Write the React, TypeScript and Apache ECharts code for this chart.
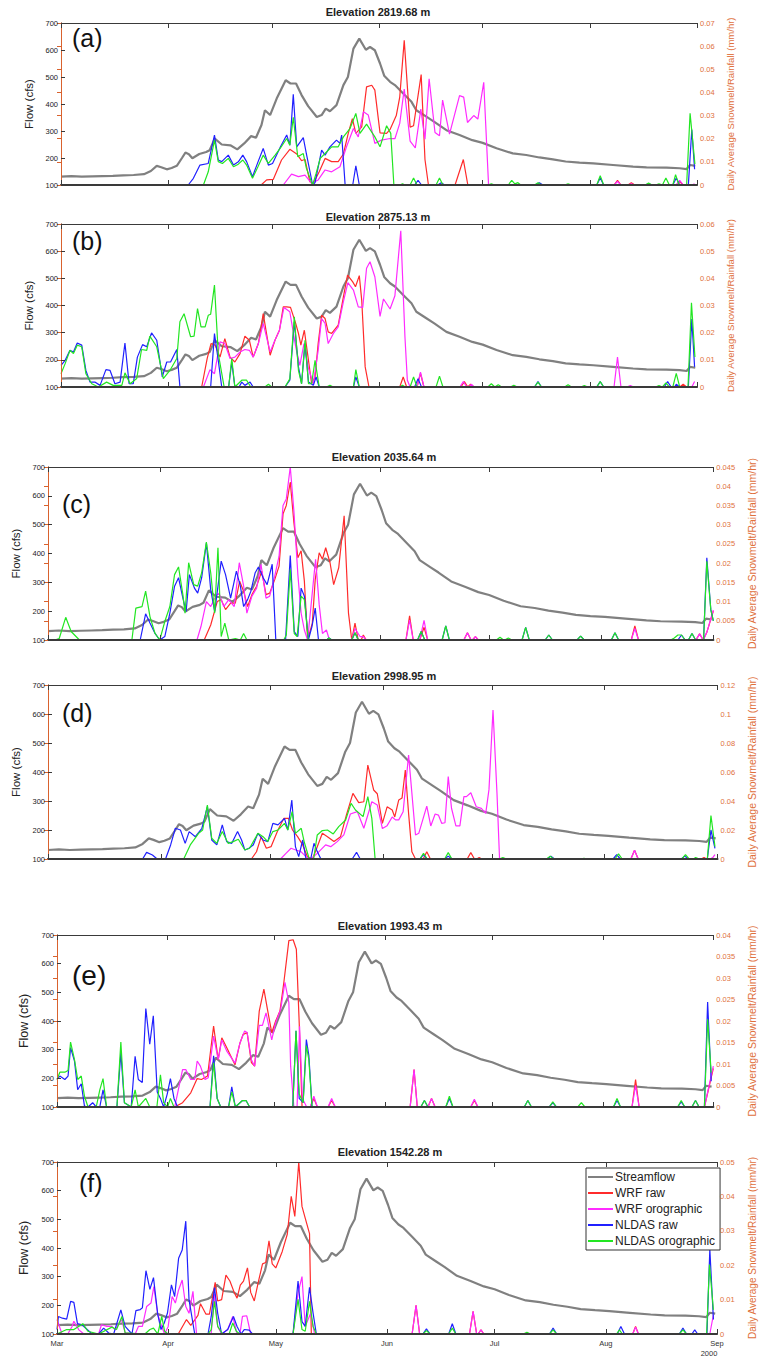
import React, { useEffect, useRef } from 'react';
import * as echarts from 'echarts';

type Pt = [number, number];

// x values are days since 1 March 2000
const MONTH_DAYS = [0, 31, 61, 92, 122, 153, 184];
const MONTH_NAMES = ['Mar', 'Apr', 'May', 'Jun', 'Jul', 'Aug', 'Sep'];
const SERIES_NAMES = ['Streamflow', 'WRF raw', 'WRF orographic', 'NLDAS raw', 'NLDAS orographic'];
const TITLES = ['Elevation 2819.68 m', 'Elevation 2875.13 m', 'Elevation 2035.64 m', 'Elevation 2998.95 m', 'Elevation 1993.43 m', 'Elevation 1542.28 m'];
const PANEL_LABELS = ['(a)', '(b)', '(c)', '(d)', '(e)', '(f)'];
const RIGHT_MAX = [0.07, 0.06, 0.045, 0.12, 0.04, 0.05];
const RIGHT_INTERVAL = [0.01, 0.01, 0.005, 0.02, 0.005, 0.01];
const FLOW_MIN = 100;
const FLOW_MAX = 700;
const FLOW_INTERVAL = 100;

const STREAMFLOW: Pt[] = [[0,131],[3,133],[6,131],[9,132],[12,133],[15,134],[18,136],[21,137],[24,140],[26,152],[27.7,171],[29,166],[30.6,158],[32,163],[33.5,171],[35,200],[36,220],[37,214],[38,199],[40,215],[42,222],[43,229],[44.5,272],[46.5,250],[49,247],[51,232],[53,254],[55,281],[56.4,275],[58,322],[59,377],[60.5,359],[62.4,420],[65,488],[66.4,476],[68,476],[69.6,433],[71.5,392],[74,352],[75.4,359],[76.6,383],[77.8,373],[79.7,396],[81.7,470],[83,500],[84.6,605],[86.3,642],[88.2,601],[89.4,611],[90.8,599],[92.3,550],[93.5,505],[95.2,482],[96.6,470],[99,439],[101.4,408],[102.8,377],[105.7,353],[108,334],[111.5,303],[115.3,285],[119,266],[122,256],[126,236],[130.7,217],[134.6,211],[138.4,202],[142.3,195],[146,187],[150,183],[154,180],[159.7,174],[165.5,168],[169.4,165],[175.2,164],[179,162],[181,159],[182,174],[183.5,171]];

// (a) 2819.68 m
const A_WRF_RAW: Pt[] = [[0,0],[57.9,0],[59.5,0.0022],[61.4,0.0024],[63.8,0.0108],[66.2,0.0154],[68.2,0.0134],[69.6,0.0105],[70.6,0.0111],[72,0.0014],[73,0.0007],[74.7,0.0057],[76.4,0.0115],[78.3,0.0101],[80.2,0.0101],[81.7,0.0134],[83.1,0.0223],[84.3,0.0287],[85.3,0.0223],[87,0.0251],[88.4,0.0424],[89.9,0.0431],[90.8,0.041],[92.3,0.0225],[94.2,0.0223],[95.2,0.024],[97,0.03],[98,0.038],[99.3,0.0625],[101,0.025],[102,0.0256],[104.2,0.0477],[105.3,0.011],[106.3,0],[114,0],[116.4,0.011],[117.7,0],[160,0],[161,0.002],[162,0],[164,0],[165,0.001],[166,0],[178,0],[179,0.0015],[180,0],[184,0]];
const A_WRF_ORO: Pt[] = [[0,0],[64.3,0],[66.7,0.0047],[68.7,0.0036],[70.6,0.0043],[72.5,0.0007],[74.4,0.0022],[76.4,0.0065],[78.3,0.0057],[80.7,0.0079],[82.6,0.0165],[84.6,0.0244],[86,0.0208],[87.5,0.0316],[88.9,0.0302],[90.8,0.018],[92.7,0.0194],[95.2,0.0201],[96.6,0.02],[98,0.0266],[99.3,0.0415],[101,0.019],[102.5,0.016],[104.1,0.0328],[105.3,0.0198],[106.5,0.0459],[108.2,0.0227],[109.5,0.0213],[110.4,0.0367],[112.4,0.022],[115.3,0.0386],[116.5,0.038],[117.6,0.027],[119.4,0.03],[120.6,0.0285],[122.3,0.0444],[123.7,0],[160,0],[161,0.0015],[162,0],[164,0],[165,0.0005],[166,0],[178,0],[179,0.002],[180,0],[182.5,0],[183.3,0.0005]];
const A_NLDAS_RAW: Pt[] = [[0,0],[36.8,0],[38.3,0.0029],[40.2,0.0086],[42.6,0.0093],[44.4,0.0216],[45.5,0.0108],[46.5,0.0101],[48.4,0.0129],[49.9,0.0086],[51.3,0.01],[52.6,0.0129],[53.7,0.0101],[55.4,0.0036],[57,0.01],[58.5,0.0158],[60,0.0086],[61.2,0.0093],[63.5,0.0165],[65.3,0.0216],[66.2,0.0172],[67.2,0.0392],[68.2,0.0165],[70.1,0.0205],[71,0.0134],[72.8,0],[73.5,0.001],[75.4,0.0151],[76.4,0.0129],[77.8,0.0165],[79.7,0.0194],[80.7,0.018],[81.2,0.0216],[82.2,0],[84.4,0],[85.3,0.0083],[86.3,0],[102.3,0],[103.3,0.002],[104.3,0],[109,0],[110,0.001],[111,0],[137.4,0],[138.4,0.001],[139.4,0],[155,0],[156,0.003],[157,0],[169,0],[170,0.0005],[171,0],[177,0],[178,0.003],[179,0],[181.5,0],[182.5,0.024],[183.3,0.0068]];
const A_NLDAS_ORO: Pt[] = [[0,0],[41.2,0],[42.6,0.0057],[44.4,0.0194],[45.5,0.0101],[46.7,0.0093],[48.4,0.0115],[49.9,0.0079],[51.3,0.009],[52.6,0.0108],[53.7,0.0086],[55.4,0.0029],[57,0.008],[58.5,0.0129],[60,0.0093],[62,0.013],[63.5,0.016],[65.3,0.0201],[66.2,0.0172],[67.2,0.0292],[68.5,0.0122],[70.1,0.0136],[71,0.0072],[72.8,0],[73.8,0.005],[75,0.0115],[76.4,0.0136],[78.3,0.0165],[80.2,0.0165],[81.7,0.0208],[83.6,0.0244],[85.3,0.0309],[86.5,0.0223],[88.4,0.0263],[90.8,0.0208],[92.3,0.0165],[94.2,0.0256],[95.4,0.0223],[96.3,0],[98,0],[98.8,0.0005],[99.6,0],[101,0],[102,0.003],[103,0],[108.5,0],[109.5,0.003],[110.5,0],[123.5,0],[124.5,0.0005],[125.5,0],[129.4,0],[130.4,0.002],[131.3,0.0005],[132.2,0.001],[133,0],[137,0],[138,0.001],[139,0],[145.7,0],[146.7,0.0005],[147.7,0],[155,0],[156,0.004],[157,0],[169,0],[170,0.0008],[171,0],[172,0],[173,0.0005],[174,0],[175,0.003],[176,0],[177,0],[177.8,0.0045],[178.8,0],[181,0],[182,0.031],[183.4,0.009]];

// (b) 2875.13 m
const B_WRF_RAW: Pt[] = [[0,0],[40.7,0],[42.3,0.0105],[43.4,0.016],[44.6,0.0154],[46,0.011],[47.4,0.0178],[48.9,0.011],[50.3,0.0092],[51.8,0.0123],[53.2,0.0187],[54.5,0.0172],[55.6,0.011],[57.1,0.016],[58.5,0.027],[60.5,0.0117],[61.9,0.0172],[63.2,0.0209],[64.3,0.0295],[65.3,0.0295],[66.4,0.0293],[67.9,0.0234],[68.7,0.0197],[69.4,0.0154],[70.4,0.0209],[71.6,0.0098],[72.5,0.0012],[73.5,0.0037],[74.4,0.016],[75.4,0.0264],[76.4,0.0252],[77.3,0.0203],[78.3,0.0197],[80.2,0.0228],[81.7,0.0332],[82.9,0.0412],[84.4,0.0387],[85.2,0.0369],[86.3,0.041],[87,0.032],[88,0.0074],[89.1,0],[98,0],[99,0.0037],[100,0],[103,0],[104,0.005],[105,0],[115.7,0],[116.7,0.002],[117.7,0],[118.5,0.001],[119.5,0],[179,0],[180,0.001],[181,0],[184,0]];
const B_WRF_ORO: Pt[] = [[0,0],[41.2,0],[43.1,0.0064],[44.4,0.0049],[46,0.0166],[47.4,0.016],[48.9,0.0105],[50.3,0.011],[51.8,0.0129],[53.2,0.0138],[54.5,0.0135],[55.6,0.011],[57.1,0.016],[58.5,0.0234],[60.5,0.0129],[61.9,0.0172],[63.2,0.0209],[64.5,0.0293],[66.2,0.0277],[67.9,0.0148],[69.1,0.008],[70.3,0.016],[71.6,0.0068],[73,0.0012],[74.4,0.0135],[75.4,0.0252],[76.4,0.0234],[77.3,0.016],[78.8,0.0197],[80.2,0.0221],[81.7,0.0314],[83,0.0384],[84.6,0.0357],[86,0.0295],[87.3,0.0293],[88.4,0.0437],[89.4,0.0461],[90.8,0.0406],[92.3,0.026],[93.3,0.0324],[95.2,0.0287],[96.6,0.0336],[98.3,0.0575],[99.5,0.0186],[100.2,0.0025],[101,0],[103,0],[104,0.0055],[105,0],[115.4,0],[116.4,0.002],[117.4,0],[118,0],[118.7,0.001],[119.5,0],[160,0],[161,0.011],[162,0],[163.7,0],[164.7,0.0005],[165.7,0],[182.5,0],[183.3,0.002]];
const B_NLDAS_RAW: Pt[] = [[0,0.008],[1.2,0.0098],[2.6,0.0135],[3.6,0.0129],[4.7,0.0162],[6,0.0154],[7.2,0.0061],[8.4,0.0018],[9.8,0.0018],[11.3,0.0006],[13,0.0064],[14.2,0.0061],[15.6,0.0012],[17.1,0.0018],[18.5,0.0162],[19.7,0.0012],[20.9,0.0012],[22.1,0.011],[23.6,0.0156],[24.8,0.0148],[26.2,0.0199],[27.7,0.0172],[29.3,0.0037],[30.6,0.0092],[31.7,0.0092],[33.5,0.0138],[34.4,0],[43.3,0],[44.4,0.0197],[45.5,0.0098],[46.5,0],[48.5,0],[49.4,0.0092],[50.3,0],[51.5,0],[52.3,0.0018],[53.2,0.0006],[54.7,0.0018],[55.6,0],[64.8,0],[66.2,0.0025],[67.5,0.024],[68.7,0.0074],[69.6,0.0012],[70.6,0.016],[71.6,0.0018],[73,0.0006],[73.8,0.0037],[74.7,0],[84.6,0],[85.3,0.0037],[86.3,0],[102.3,0],[103.3,0.003],[104.3,0],[137,0],[138,0.002],[139,0],[155,0],[156,0.002],[157,0],[174.5,0],[175.5,0.002],[176.5,0],[177.5,0],[178,0.001],[179,0],[181.5,0],[182.5,0.025],[183.3,0.0074]];
const B_NLDAS_ORO: Pt[] = [[0,0.0049],[1.2,0.0086],[2.6,0.0135],[3.6,0.0123],[4.7,0.0154],[6,0.0148],[7.2,0.0049],[8.9,0.0012],[10.8,0],[13.2,0.0018],[15.1,0.0006],[17.6,0.0006],[18.5,0.0052],[20,0.0012],[21.9,0.0031],[23.3,0.0138],[24.8,0.0135],[25.7,0.0187],[27.7,0.0148],[29.6,0.0031],[31.5,0.0061],[33.5,0.0105],[34.4,0.024],[35.6,0.027],[37.5,0.0185],[38.5,0.0187],[39.5,0.0289],[40.5,0.0221],[41.7,0.0221],[42.6,0.0264],[43.3,0.0268],[44.4,0.0375],[45.5,0.0123],[47.2,0],[48.5,0],[49.4,0.0105],[50.3,0],[52.3,0.0025],[53.7,0.0025],[54.9,0],[59,0],[60,0.001],[61,0],[64.8,0],[66.2,0.003],[67.5,0.0258],[68.7,0.0061],[69.6,0.0012],[70.6,0.0172],[71.6,0.0012],[72.5,0.0012],[73.5,0.0098],[74.7,0],[76.8,0],[77.8,0.0006],[78.8,0],[84.6,0],[85.3,0.0064],[86.3,0],[98,0],[98.8,0.0006],[99.6,0],[101,0],[102,0.0037],[103,0],[108.5,0],[109.5,0.004],[110.5,0],[123.5,0],[124.5,0.0012],[125.5,0],[126.5,0.0008],[127.5,0],[130,0],[131,0.0006],[132,0],[137,0],[138,0.0018],[139,0],[145.7,0],[146.7,0.0008],[147.7,0],[150.4,0],[151.4,0.0005],[152.4,0],[155,0],[156,0.002],[157,0],[172,0],[173,0.0005],[174,0],[175,0.0015],[176,0],[177,0],[178,0.005],[179,0],[181.4,0],[182.4,0.031],[183.4,0.011]];

// (c) 2035.64 m
const C_WRF_RAW: Pt[] = [[0,0],[43.2,0],[45,0.0039],[46.8,0.01],[47.9,0.0105],[49.1,0.0079],[50.5,0.0096],[51.8,0.0096],[53,0.0153],[54.1,0.0127],[55.2,0.0087],[56.4,0.0118],[57.7,0.014],[59.1,0.0179],[60.3,0.0118],[61.3,0.0122],[62.7,0.0157],[63.9,0.0192],[65,0.0328],[65.9,0.035],[67,0.0411],[68,0.0306],[69.1,0.0214],[70,0.0232],[70.9,0.0153],[71.8,0],[73.1,0.0044],[73.9,0.0157],[75,0.0227],[75.9,0.021],[76.8,0.024],[78,0.0201],[79,0.0144],[80.4,0.0188],[81.9,0.0323],[83.1,0.007],[84,0],[84.9,0.0044],[85.8,0],[86.6,0],[87.2,0.0013],[88,0],[99,0],[100,0.0063],[101,0],[102.8,0],[104,0.0033],[105,0],[115,0],[116,0.0019],[117,0],[117.4,0],[118.2,0.0009],[119,0],[161.3,0],[162.3,0.0037],[163.3,0],[179.2,0],[180.2,0.0016],[181.2,0],[182.2,0.002],[184,0.0075]];
const C_WRF_ORO: Pt[] = [[0,0],[41.2,0],[42.3,0.0035],[43.8,0.01],[45,0.0087],[46.4,0.0114],[47.3,0.0122],[48.6,0.0087],[50,0.0105],[51.5,0.0087],[52.9,0.0201],[54.1,0.014],[55,0.007],[56.4,0.0114],[57.7,0.0135],[58.9,0.0197],[60.3,0.0109],[61.3,0.0114],[62.7,0.0166],[63.9,0.0218],[65,0.035],[65.9,0.0367],[67,0.045],[68,0.0336],[69.1,0.017],[70,0.007],[70.9,0.0026],[71.8,0],[73,0.0114],[74,0.021],[75,0.0092],[75.9,0.0017],[77,0.0026],[77.7,0.0004],[78.5,0],[84,0],[84.9,0.003],[86.3,0.0009],[87.2,0.0009],[88,0],[99,0],[100,0.0052],[101,0],[102.8,0],[104,0.0051],[105,0],[115,0],[116,0.0019],[117,0],[117.4,0],[118.2,0.0009],[119,0],[161.3,0],[162.3,0.003],[163.3,0],[179.2,0],[180.2,0.0016],[181.2,0],[182.2,0.002],[184,0.0078]];
const C_NLDAS_RAW: Pt[] = [[0,0],[25.5,0],[27,0.0068],[28.2,0.0044],[29.6,0.0017],[30.9,0],[32.3,0.0009],[33.7,0.007],[35,0.014],[36.1,0.0162],[37.3,0.0109],[38.2,0.0074],[39.1,0.017],[40.5,0.0135],[41.4,0.0122],[42.5,0.0162],[43.8,0.0252],[45,0.0131],[46.1,0.0074],[47.9,0.0205],[49.1,0.017],[50.5,0.0109],[52.1,0.0179],[53.2,0.014],[54.1,0.0087],[55.2,0.0105],[56.1,0.0127],[57.3,0.0175],[58.2,0.019],[59.5,0.0162],[60.6,0.0144],[62,0.0197],[63,0],[65.7,0],[67,0.022],[68.1,0.0022],[69.1,0.0009],[70,0.0135],[70.9,0.0114],[72,0],[73,0.0035],[73.9,0.0083],[74.8,0],[77,0],[77.7,0.0005],[78.5,0],[84,0],[84.9,0.0019],[85.8,0],[102.2,0],[103.2,0.0022],[104.2,0],[109,0],[110,0.0037],[111,0],[131.1,0],[132.1,0.0033],[133.1,0],[137.5,0],[138.5,0.0013],[139.5,0],[146.3,0],[147.3,0.001],[148.3,0],[155.8,0],[156.8,0.0019],[157.8,0],[174.2,0],[175.2,0.0013],[176.2,0],[177.1,0],[178.1,0.0017],[179.1,0],[181.3,0],[182.2,0.0214],[183.3,0.0079],[184,0.005]];
const C_NLDAS_ORO: Pt[] = [[0,0],[1.9,0],[3.1,0.0004],[4.9,0.0059],[6.4,0.0022],[8.7,0],[23.2,0],[24.3,0.0083],[26,0.0087],[27,0.0127],[28.2,0.0061],[29.6,0.0017],[30.9,0],[32.3,0.0048],[33.7,0.0087],[35,0.017],[36.1,0.019],[37.3,0.0118],[37.9,0.007],[38.9,0.0201],[40.3,0.0144],[41.4,0.014],[42.5,0.0175],[43.8,0.0255],[45,0.0175],[46.1,0.007],[47,0.024],[47.9,0.0009],[48.9,0.0044],[50,0],[51.8,0.0004],[53.2,0],[54.1,0.0017],[55,0],[65.2,0],[65.9,0.0013],[67,0.0184],[68.1,0.0017],[68.9,0.0009],[70,0.0114],[70.9,0.0105],[72,0],[77,0],[77.7,0.0005],[78.5,0],[84,0],[84.9,0.0019],[85.8,0],[102.2,0],[103.2,0.0022],[104.2,0],[109,0],[110,0.0037],[111,0],[124,0],[125,0.0007],[126,0],[126.3,0],[127.3,0.0005],[128.3,0],[131.1,0],[132.1,0.0033],[133.1,0],[137.5,0],[138.5,0.0013],[139.5,0],[146.3,0],[147.3,0.001],[148.3,0],[155.8,0],[156.8,0.0019],[157.8,0],[172.2,0],[173.2,0.0005],[174.2,0.0013],[175.2,0.0013],[176.2,0],[177.1,0],[178.1,0.0017],[179.1,0],[181.3,0],[182.2,0.0205],[183.3,0.0079],[184,0.005]];

// (d) 2998.95 m
const D_WRF_RAW: Pt[] = [[0,0],[55.9,0],[57.3,0.005],[58.6,0.0154],[60,0.0074],[61.3,0.0085],[63.2,0.02],[64.8,0.028],[66.1,0.028],[67.2,0.02],[68.6,0.0154],[70,0.0097],[71.3,0.0016],[72.7,0],[74,0.0085],[75.4,0.0177],[76.8,0.0154],[78.6,0.012],[80.4,0.0154],[82,0.0303],[83.8,0.0453],[85.4,0.0389],[86.8,0.0395],[87.9,0.0648],[89.5,0.0476],[90.5,0.045],[91.9,0.0246],[93.2,0.036],[94.6,0.0338],[95.3,0.029],[96.4,0.0407],[97.3,0.042],[98.2,0.0614],[99.1,0.0315],[100,0.005],[101,0],[103.1,0],[104.1,0.005],[105.1,0],[115.2,0],[116.2,0.0044],[117.2,0],[117.8,0],[118.5,0.001],[119.2,0],[160.2,0],[161.2,0.006],[162.2,0],[179.5,0],[180.3,0.001],[181,0],[184,0]];
const D_WRF_ORO: Pt[] = [[0,0],[63.9,0],[65.4,0.0039],[66.8,0.0074],[68.1,0.0062],[69.5,0.0051],[70.9,0.0016],[72.2,0],[74,0.0039],[76.3,0.0097],[77.7,0.0085],[79.5,0.012],[81.3,0.0166],[83.1,0.031],[85,0.0327],[86.8,0.0212],[89,0.0395],[90.5,0.0372],[91.9,0.021],[93.2,0.023],[94.6,0.029],[95.5,0.027],[96.4,0.027],[97.6,0.0326],[99.1,0.0717],[101,0.0166],[101.9,0.0177],[104.1,0.0365],[105.2,0.0228],[106.4,0.031],[107.3,0.0303],[108.2,0.0246],[109.1,0.025],[110,0.0568],[110.9,0.035],[112.1,0.0228],[113.2,0.0228],[114.3,0.043],[115,0.043],[116.2,0.0457],[117.7,0.036],[119.1,0.0349],[120.3,0.0315],[121.2,0.048],[122.3,0.1028],[123.4,0.045],[124.1,0],[160.2,0],[161.2,0.006],[162.2,0],[182,0],[182.7,0.001],[183.3,0.003]];
const D_NLDAS_RAW: Pt[] = [[0,0],[26,0],[27.1,0.0046],[28.7,0.0028],[30,0],[32.3,0],[33.7,0.0097],[35,0.0212],[36.4,0.02],[37.7,0.0108],[38.8,0.0189],[40.5,0.0154],[42.3,0.0212],[43.8,0.0361],[45,0.0131],[46.4,0.0097],[47.9,0.0235],[49.1,0.012],[50.5,0.0108],[52.1,0.0189],[53.2,0.0131],[54.1,0.0062],[55.2,0.0074],[56.4,0.0097],[57.7,0.0177],[59.1,0.0131],[60.4,0.012],[61.8,0.0246],[63.2,0.0235],[65,0.028],[65.9,0.02],[67,0.0407],[68,0.0085],[68.9,0.0016],[70,0.0131],[70.9,0],[72.2,0],[73.1,0.0108],[74,0.0051],[75,0],[83.6,0],[84.8,0.0046],[85.8,0],[102.2,0],[103.2,0.003],[104.2,0],[109,0],[110,0.002],[111,0],[137.2,0],[138.2,0.002],[139.2,0],[155.3,0],[156.3,0.003],[157.3,0],[174,0],[175,0.002],[176,0],[181.2,0],[182.2,0.02],[183.3,0.0074]];
const D_NLDAS_ORO: Pt[] = [[0,0],[37.3,0],[39.1,0.0097],[41.4,0.0177],[42.5,0.02],[43.8,0.0372],[45,0.0143],[46.4,0.0108],[47.9,0.0189],[49.5,0.0108],[50.9,0.012],[52.3,0.0136],[54.1,0.0062],[55.4,0.0074],[57.7,0.0177],[59.1,0.0154],[60.4,0.012],[61.8,0.0189],[63.2,0.02],[65,0.0246],[65.9,0.02],[67.1,0.0327],[68,0.0177],[69.6,0.0212],[70.4,0.012],[71.8,0],[73,0],[74,0.0166],[75.4,0.0196],[76.8,0.02],[78.4,0.0173],[79.9,0.0223],[81.8,0.0269],[83.3,0.0384],[84.5,0.0338],[86.6,0.0292],[87.9,0.043],[89,0.028],[89.9,0],[102.2,0],[103.2,0.004],[104.2,0],[109,0],[110,0.0044],[111,0],[124,0],[125,0.001],[126,0],[137,0],[138,0.002],[139,0],[146.3,0],[147.3,0.0005],[148.3,0],[155.8,0],[156.8,0.0035],[157.8,0],[174.2,0],[175.2,0.003],[176.2,0],[177.3,0],[178,0.001],[179,0],[181.2,0],[182.2,0.03],[183.3,0.0085]];

// (e) 1993.43 m
const E_WRF_RAW: Pt[] = [[0,0],[33,0],[35.2,0.001],[37.5,0.0033],[39.3,0.0066],[40.5,0.0064],[42.2,0.0072],[43.9,0.0188],[45.2,0.011],[46.2,0.0161],[47.6,0.0138],[49.9,0.0098],[51.3,0.0149],[52.2,0.0169],[53.3,0.0173],[54.5,0.0103],[55.4,0.0095],[56.7,0.0223],[58,0.0274],[59,0.0227],[60.2,0.0173],[61.3,0.02],[62.5,0.0223],[63.6,0.029],[65,0.0387],[66.2,0.0389],[67.1,0.0367],[67.9,0.0196],[68.7,0],[71,0],[72,0.002],[73,0],[76,0],[77,0.0015],[78,0],[99,0],[100.1,0.0087],[101,0],[104,0],[105,0.002],[106,0],[116,0],[117,0.0015],[118,0],[161.2,0],[162.2,0.0064],[163.2,0],[181.5,0],[184,0.009]];
const E_WRF_ORO: Pt[] = [[0,0],[33,0],[35.2,0.0087],[36.1,0.0087],[37.5,0.0064],[38.6,0.0064],[39.3,0.0107],[40.2,0.0095],[41.5,0.0064],[42.4,0.0068],[43.9,0.0165],[45.2,0.011],[46.2,0.0156],[47.6,0.013],[49.9,0.0102],[51.3,0.0149],[52.6,0.0177],[53.3,0.0173],[54.5,0.011],[55.4,0.0095],[56.7,0.019],[57.6,0.019],[58.6,0.0219],[60.2,0.0156],[61.3,0.0196],[62.7,0.0227],[63.9,0.029],[65,0.0243],[65.5,0.0095],[66.4,0],[67.3,0],[68,0.0188],[68.8,0.002],[70,0],[71,0],[72,0.0025],[73,0],[76,0],[77,0.002],[78,0],[99,0],[100.1,0.0087],[101,0],[104,0],[105,0.002],[106,0],[116,0],[117,0.0018],[118,0],[161.2,0],[162.2,0.005],[163.2,0],[181.5,0],[184,0.0095]];
const E_NLDAS_RAW: Pt[] = [[0,0.0064],[0.8,0.0072],[2.2,0.0064],[3.1,0.0072],[3.8,0.0138],[4.9,0.0107],[5.8,0.004],[6.8,0.0054],[7.7,0.0002],[8.7,0],[10,0.001],[11,0],[12,0],[12.9,0.004],[13.9,0],[16.8,0],[17.9,0.0126],[18.9,0.001],[20.8,0],[21.9,0.0118],[22.8,0.0064],[23.9,0.0057],[24.9,0.0229],[26,0.0146],[27,0.0212],[28.1,0.0035],[29,0.002],[29.9,0],[30.9,0.003],[31.8,0.0066],[32.8,0.002],[33.8,0],[42.9,0],[43.9,0.0119],[44.9,0.002],[45.9,0],[48.1,0],[49,0.0047],[50,0],[52,0.0015],[53,0.0015],[54,0],[66.1,0],[67,0.0177],[67.9,0.002],[69,0.001],[69.9,0.0157],[70.6,0.012],[71.5,0],[102,0],[103,0.0015],[104,0],[109,0],[110,0.002],[111,0],[131,0],[132,0.0015],[133,0],[138,0],[139,0.001],[140,0],[156,0],[157,0.0015],[158,0],[174,0],[175,0.0012],[176,0],[178,0],[179,0.0015],[180,0],[181.5,0],[182.4,0.0244],[183.4,0.006]];
const E_NLDAS_ORO: Pt[] = [[0,0.0064],[0.8,0.0081],[2.2,0.0081],[3.1,0.0085],[3.8,0.0151],[4.9,0.011],[5.8,0.0064],[6.8,0.0072],[7.7,0.0025],[8.7,0],[11,0],[12,0.004],[12.9,0.0066],[13.9,0],[16.8,0],[17.9,0.0151],[18.9,0.001],[20.8,0],[21.9,0.004],[22.8,0],[24.9,0.002],[26,0],[28,0],[29,0.0075],[29.9,0.001],[31,0],[31.8,0.002],[32.8,0],[42.9,0],[43.9,0.0103],[44.9,0.002],[45.9,0],[48.1,0],[49,0.0035],[50,0],[52,0.0015],[53,0.0015],[54,0],[66.1,0],[67,0.0177],[67.9,0.003],[69,0.001],[69.9,0.0143],[70.6,0.011],[71.5,0],[102,0],[103,0.0015],[104,0],[109,0],[110,0.0025],[111,0],[131,0],[132,0.0015],[133,0],[138,0],[139,0.0012],[140,0],[146,0],[147,0.001],[148,0],[156,0],[157,0.002],[158,0],[174,0],[175,0.0015],[176,0],[178,0],[179,0.0015],[180,0],[181.5,0],[182.4,0.0204],[183.4,0.008]];

// (f) 1542.28 m
const F_WRF_RAW: Pt[] = [[0,0],[33.8,0],[36.1,0.0042],[37.3,0.0025],[39.3,0.0054],[40,0.0088],[41.5,0.0058],[42.5,0.0058],[44.1,0.015],[44.8,0.0096],[45.9,0.01],[47.1,0.0171],[48.2,0.0154],[49.4,0.0121],[50.2,0.0104],[51.1,0.0142],[52,0.0154],[53.1,0.0192],[54,0.0121],[55,0.0096],[56.1,0.015],[57.3,0.0204],[58.2,0.0208],[59.1,0.0271],[60,0.0204],[61,0.0192],[62.8,0.024],[64.2,0.029],[65.3,0.04],[66.3,0.0342],[67.4,0.05],[68.3,0.0371],[69.2,0.0337],[70.4,0.0292],[70.9,0],[99,0],[100.1,0.0083],[101.1,0],[115,0],[116,0.0066],[117,0],[117.4,0],[118.2,0.0012],[119,0],[160.5,0],[161.3,0.0022],[162.1,0],[184,0]];
const F_WRF_ORO: Pt[] = [[0,0.0042],[1.4,0],[3,0],[4.2,0.0022],[4.7,0.0037],[6.1,0.0012],[7.5,0],[11.6,0],[12.4,0.0027],[13.9,0.0022],[15.3,0.0022],[16.2,0.0012],[18,0.0042],[19,0.0003],[21.8,0],[22.7,0.0022],[23.8,0.0022],[25,0.008],[26.2,0.009],[27,0.0138],[28.1,0.0056],[29.2,0.0022],[30,0],[31,0.0022],[32.1,0.0109],[33,0.009],[33.9,0.0128],[34.9,0.0157],[35.9,0.008],[36.8,0.006],[37.9,0.0124],[38.9,0],[42.1,0],[43,0.0003],[43.9,0.0116],[44.8,0.0022],[45.9,0],[47.6,0.0013],[49,0.0051],[50.2,0],[51,0],[51.7,0.0051],[52.9,0.0053],[54,0],[65.8,0],[67.2,0.0119],[68.3,0.0167],[69.2,0.0022],[70.7,0.006],[71.8,0],[99,0],[100.1,0.0083],[101.1,0],[115,0],[116,0.0066],[117,0],[117.4,0],[118.2,0.0012],[119,0],[160.5,0],[161.3,0.002],[162.1,0],[182,0],[183,0.0056]];
const F_NLDAS_RAW: Pt[] = [[0,0.0013],[0.4,0.0051],[1.5,0.0046],[2.7,0.0043],[3.8,0.0095],[4.7,0.0092],[5.7,0.003],[7,0.0027],[8.4,0.0013],[9.8,0],[11.6,0],[13,0.0017],[14.4,0.0003],[15.8,0],[17.8,0.007],[19,0.0022],[20.9,0],[22,0.0068],[23.2,0.0071],[23.8,0.0076],[24.8,0.0184],[25.9,0.013],[26.9,0.0164],[28.1,0.0056],[29,0.0013],[29.9,0.0032],[30.8,0.0061],[31.9,0.0143],[32.8,0.0109],[33.9,0.022],[34.9,0.0244],[35.9,0.0328],[36.8,0.01],[38.4,0],[42.1,0],[43,0.0051],[43.9,0.0135],[44.8,0.006],[45.9,0],[47.6,0.0013],[49.2,0.0051],[50.2,0.0022],[51.3,0],[52.2,0.0013],[53.6,0.0011],[54.5,0],[65.8,0],[67.2,0.0154],[68.3,0.0036],[69.2,0.0022],[70.4,0.0136],[71.4,0.006],[72.3,0],[102,0],[103,0.0015],[104,0],[109.2,0],[110.2,0.003],[111.2,0],[137.3,0],[138.3,0.0017],[139.3,0],[156.2,0],[157.2,0.0022],[158.2,0],[173.5,0],[174.5,0.0017],[175.5,0],[177,0],[177.8,0.0012],[178.6,0],[181.2,0],[182,0.0246],[183,0.0042]];
const F_NLDAS_ORO: Pt[] = [[0,0],[2.7,0.0013],[4.7,0.0013],[7.2,0.003],[8.6,0.0008],[11.6,0],[15.3,0.002],[16.6,0.0013],[18.1,0.0051],[19,0.0003],[24.5,0],[25.9,0.0013],[26.9,0.0017],[28.1,0],[29.2,0.0051],[30,0.0008],[31,0],[42.1,0],[43,0.0013],[43.9,0.0095],[44.8,0.0022],[46.2,0],[48,0],[49,0.0032],[50,0.0008],[51,0],[65.8,0],[67.2,0.0101],[68.3,0.0013],[69.2,0.0008],[70.4,0.0095],[71.4,0.0022],[72.3,0],[102,0],[103,0.001],[104,0],[109.2,0],[110.2,0.0017],[111.2,0],[130,0],[131,0.0005],[132,0],[137.3,0],[138.3,0.0012],[139.3,0],[156,0],[156.8,0.0012],[157.6,0],[173.5,0],[174.5,0.0012],[175.5,0],[181.1,0],[181.9,0.0202],[183,0.007]];

const PANEL_SERIES: Pt[][][] = [
  [A_WRF_RAW, A_WRF_ORO, A_NLDAS_RAW, A_NLDAS_ORO],
  [B_WRF_RAW, B_WRF_ORO, B_NLDAS_RAW, B_NLDAS_ORO],
  [C_WRF_RAW, C_WRF_ORO, C_NLDAS_RAW, C_NLDAS_ORO],
  [D_WRF_RAW, D_WRF_ORO, D_NLDAS_RAW, D_NLDAS_ORO],
  [E_WRF_RAW, E_WRF_ORO, E_NLDAS_RAW, E_NLDAS_ORO],
  [F_WRF_RAW, F_WRF_ORO, F_NLDAS_RAW, F_NLDAS_ORO],
];

// layout (pixels)
const LAYOUT = [
  { left: 61, top: 23, width: 636, height: 162, lGap: 18, rGap: 22, lFont: 11.5, rFont: 9.5, labX: 72, labY: 25, labFont: 25, titleX: 378, titleY: 12 },
  { left: 61, top: 224, width: 636, height: 163, lGap: 18, rGap: 22, lFont: 11.5, rFont: 9.5, labX: 72, labY: 228, labFont: 25, titleX: 378, titleY: 217 },
  { left: 48, top: 467, width: 675, height: 173, lGap: 23, rGap: 29, lFont: 11.5, rFont: 10.5, labX: 62, labY: 491, labFont: 25, titleX: 384, titleY: 457 },
  { left: 48, top: 685, width: 674, height: 174, lGap: 23, rGap: 26, lFont: 11.5, rFont: 10.5, labX: 62, labY: 700, labFont: 25, titleX: 384, titleY: 676 },
  { left: 57, top: 935, width: 669, height: 172, lGap: 22, rGap: 29, lFont: 12.5, rFont: 10.5, labX: 72, labY: 961, labFont: 28, titleX: 390, titleY: 926 },
  { left: 57, top: 1162, width: 665, height: 172, lGap: 22, rGap: 30, lFont: 12.5, rFont: 10, labX: 79, labY: 1170, labFont: 25, titleX: 390, titleY: 1152 },
];

const FONT = '"Liberation Sans", Arial, Helvetica, sans-serif';
const COLORS = ['#808080', '#ff2b2b', '#ff2bff', '#2020ff', '#22e622'];
const ORANGE = '#d9622e';
const AXIS_DARK = '#3a3a3a';

function buildOption() {
  const grid: any[] = [];
  const xAxis: any[] = [];
  const yAxis: any[] = [];
  const series: any[] = [];
  const graphic: any[] = [];

  LAYOUT.forEach((l, i) => {
    grid.push({ left: l.left, top: l.top, width: l.width, height: l.height, show: false });
    const xBase = {
      type: 'value', gridIndex: i, min: 0, max: 184, z: 10,
      splitLine: { show: false },
      axisTick: { show: true, inside: true, length: 5, customValues: MONTH_DAYS, lineStyle: { color: AXIS_DARK } },
    };
    xAxis.push({
      ...xBase, position: 'bottom',
      axisLine: { show: true, onZero: false, lineStyle: { color: AXIS_DARK, width: 2.2 } },
      axisLabel: {
        show: i === 5, customValues: MONTH_DAYS, fontSize: 7.5, color: '#333', margin: 5, fontFamily: FONT,
        formatter: (v: number) => MONTH_NAMES[MONTH_DAYS.indexOf(Math.round(v))] || '',
      },
    });
    xAxis.push({
      ...xBase, position: 'top',
      axisLine: { show: true, onZero: false, lineStyle: { color: AXIS_DARK, width: 1.2 } },
      axisLabel: { show: false },
    });
    yAxis.push({
      type: 'value', gridIndex: i, position: 'left', min: FLOW_MIN, max: FLOW_MAX, interval: FLOW_INTERVAL, z: 10,
      splitLine: { show: false },
      axisLine: { show: true, lineStyle: { color: AXIS_DARK } },
      axisTick: { show: true, inside: true, length: 4, lineStyle: { color: AXIS_DARK } },
      axisLabel: { fontSize: 7.5, color: '#222', margin: 3, fontFamily: FONT },
      name: 'Flow (cfs)', nameLocation: 'middle', nameRotate: 90, nameGap: l.lGap,
      nameTextStyle: { fontSize: l.lFont, color: '#222', fontFamily: FONT },
    });
    yAxis.push({
      type: 'value', gridIndex: i, position: 'right', min: 0, max: RIGHT_MAX[i], interval: RIGHT_INTERVAL[i], z: 10,
      splitLine: { show: false },
      axisLine: { show: true, lineStyle: { color: ORANGE } },
      axisTick: { show: true, inside: true, length: 4, lineStyle: { color: ORANGE } },
      axisLabel: {
        fontSize: 7.5, color: '#e0703c', margin: 3, fontFamily: FONT,
        formatter: (v: number) => (Math.abs(v) < 1e-9 ? '0' : String(parseFloat(v.toFixed(4)))),
      },
      name: 'Daily Average Snowmelt/Rainfall (mm/hr)', nameLocation: 'middle', nameRotate: 90, nameGap: l.rGap,
      nameTextStyle: { fontSize: l.rFont, color: '#e0703c', fontFamily: FONT },
    });

    series.push({
      name: SERIES_NAMES[0], type: 'line', xAxisIndex: 2 * i, yAxisIndex: 2 * i,
      data: STREAMFLOW, symbol: 'none', showSymbol: false, z: 2,
      lineStyle: { color: COLORS[0], width: 2.2 }, itemStyle: { color: COLORS[0] },
    });
    PANEL_SERIES[i].forEach((d, k) => {
      series.push({
        name: SERIES_NAMES[k + 1], type: 'line', xAxisIndex: 2 * i, yAxisIndex: 2 * i + 1,
        data: d, symbol: 'none', showSymbol: false, z: 3,
        lineStyle: { color: COLORS[k + 1], width: 1.2 }, itemStyle: { color: COLORS[k + 1] },
      });
    });

    graphic.push({
      type: 'text', x: l.titleX, y: l.titleY, z: 20,
      style: { text: TITLES[i], font: `bold 11px ${FONT}`, fill: '#222', align: 'center', verticalAlign: 'middle', textAlign: 'center', textVerticalAlign: 'middle' },
    });
    graphic.push({
      type: 'text', x: l.labX, y: l.labY, z: 20,
      style: { text: PANEL_LABELS[i], font: `${l.labFont}px ${FONT}`, fill: '#111', align: 'left', verticalAlign: 'top', textAlign: 'left', textVerticalAlign: 'top' },
    });
  });

  graphic.push({
    type: 'text', x: 709, y: 1349, z: 20,
    style: { text: '2000', font: `7.5px ${FONT}`, fill: '#333', align: 'center', verticalAlign: 'top', textAlign: 'center', textVerticalAlign: 'top' },
  });

  return {
    animation: false,
    backgroundColor: '#ffffff',
    grid, xAxis, yAxis, series, graphic,
    legend: {
      data: SERIES_NAMES, orient: 'vertical', left: 586, top: 1168,
      icon: 'rect', itemWidth: 25, itemHeight: 2, itemGap: 4,
      selectedMode: false, backgroundColor: '#ffffff', borderColor: '#333', borderWidth: 1,
      padding: [3, 5, 3, 2],
      textStyle: { fontSize: 12, color: '#222', fontFamily: FONT, padding: [0, 0, 0, -3] },
    },
  };
}

export default function App() {
  const ref = useRef<HTMLDivElement>(null);
  useEffect(() => {
    if (!ref.current) return;
    const chart = echarts.init(ref.current, undefined, { renderer: 'svg' });
    chart.setOption(buildOption() as any);
    return () => chart.dispose();
  }, []);
  return (
    <div
      ref={ref}
      style={{ position: 'absolute', left: 0, top: 0, width: 765, height: 1356, background: '#fff' }}
    />
  );
}
